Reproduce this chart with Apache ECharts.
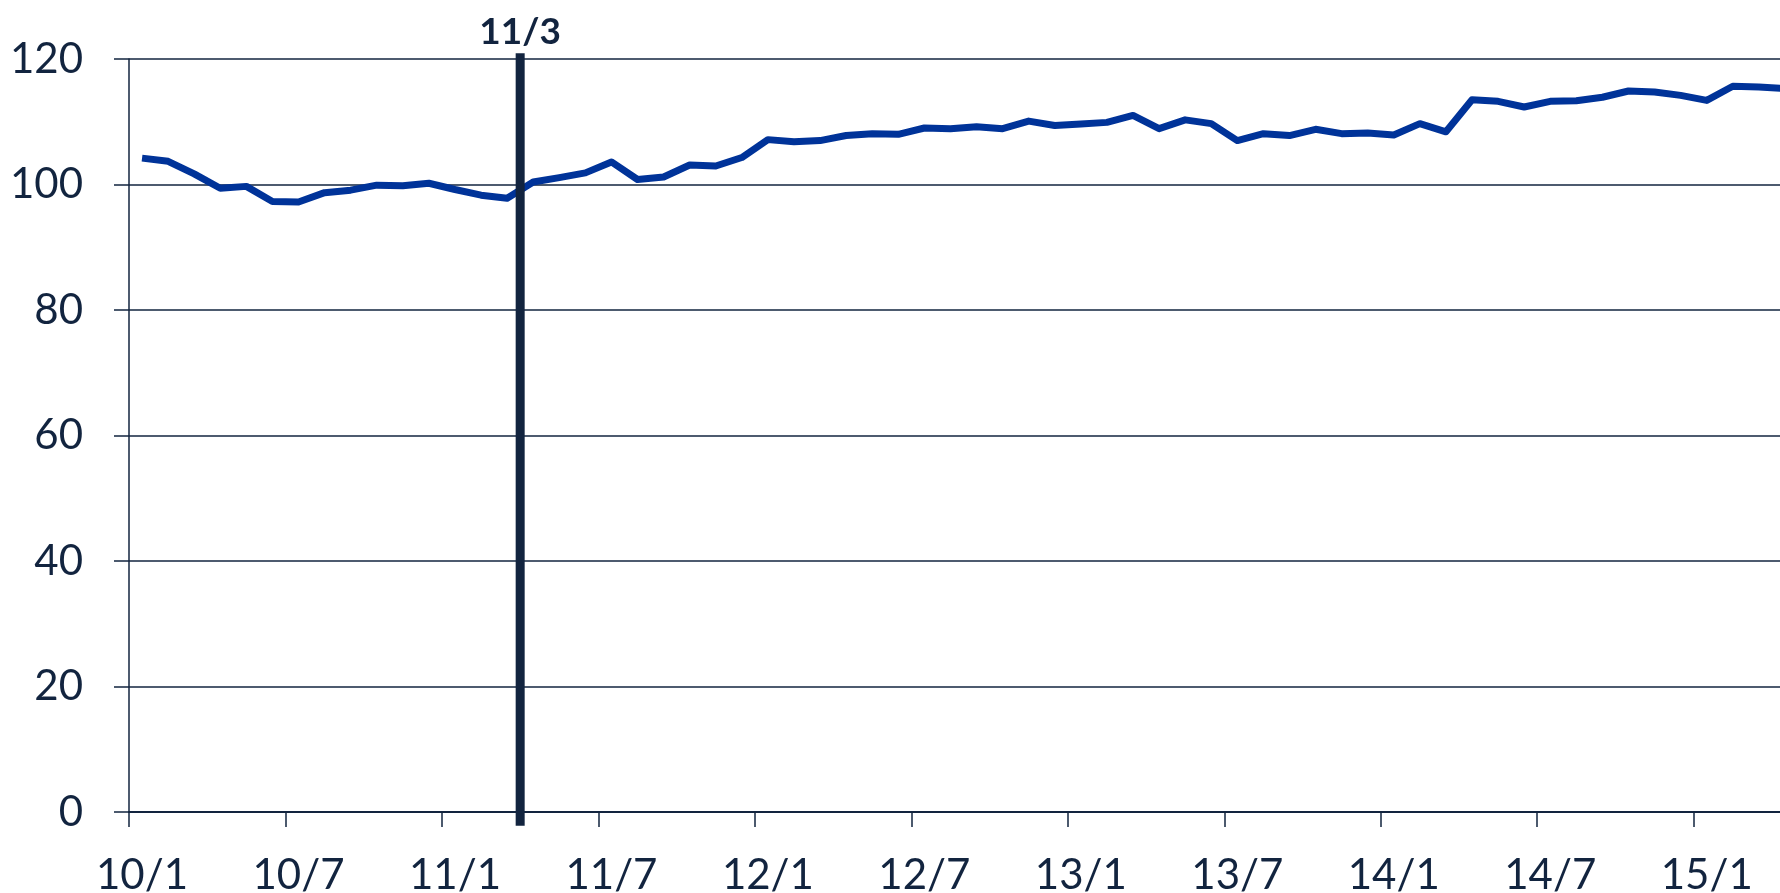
<!DOCTYPE html>
<html>
<head>
<meta charset="utf-8">
<script src="https://cdn.jsdelivr.net/npm/echarts@6/dist/echarts.min.js"></script>
<style>
  html, body { margin: 0; padding: 0; background: #fff; overflow: hidden; }
  #chart { width: 1780px; height: 893px; }
</style>
</head>
<body>
<div id="chart"></div>
<script>
// monthly index, yy/m
const months = [
  '10/1', '10/2', '10/3', '10/4', '10/5', '10/6', '10/7', '10/8', '10/9', '10/10', '10/11', '10/12',
  '11/1', '11/2', '11/3', '11/4', '11/5', '11/6', '11/7', '11/8', '11/9', '11/10', '11/11', '11/12',
  '12/1', '12/2', '12/3', '12/4', '12/5', '12/6', '12/7', '12/8', '12/9', '12/10', '12/11', '12/12',
  '13/1', '13/2', '13/3', '13/4', '13/5', '13/6', '13/7', '13/8', '13/9', '13/10', '13/11', '13/12',
  '14/1', '14/2', '14/3', '14/4', '14/5', '14/6', '14/7', '14/8', '14/9', '14/10', '14/11', '14/12',
  '15/1', '15/2', '15/3', '15/4',
]

const values = [
  104.2, 103.7, 101.7, 99.4, 99.7, 97.3, 97.2, 98.7, 99.1, 99.9, 99.8, 100.2,
  99.2, 98.3, 97.8, 100.4, 101.1, 101.85, 103.6, 100.8, 101.2, 103.1, 102.95, 104.3,
  107.15, 106.8, 107.0, 107.8, 108.1, 108.0, 109.0, 108.9, 109.2, 108.9, 110.1, 109.4,
  109.65, 109.9, 111.0, 108.9, 110.3, 109.7, 107.0, 108.1, 107.8, 108.8, 108.1, 108.2,
  107.9, 109.7, 108.4, 113.5, 113.25, 112.35, 113.25, 113.35, 113.9, 114.9, 114.75, 114.2,
  113.4, 115.65, 115.55, 115.3,
]

const yTicks = { min: 0, max: 120, step: 20 }

// vertical marker drawn on the boundary right after this month
const markerMonth = '11/3'
const markerSpan = [-2.2, 120.9]

const ink = '#12243f'
const lineBlue = '#003399'
const font = 'Lato, "Noto Sans", sans-serif'

const markerX = months.indexOf(markerMonth) + 1

const chart = echarts.init(document.getElementById('chart'), null, { renderer: 'canvas' })

chart.setOption({
  animation: false,
  backgroundColor: '#fff',
  textStyle: { fontFamily: font, color: ink },
  // the plot runs a little past the right edge of the picture
  grid: { left: 129, top: 59, width: 1669, height: 753, outerBoundsMode: 'none', containLabel: false },
  xAxis: [
    {
      type: 'category',
      data: months,
      boundaryGap: true,
      axisLine: { lineStyle: { color: ink, width: 2 } },
      axisTick: { show: true, interval: 5, length: 15, lineStyle: { color: ink, width: 1.5 } },
      axisLabel: { interval: 5, margin: 42, fontSize: 42, color: ink, fontFamily: font },
      splitLine: { show: false },
    },
    {
      // hidden helper axis: 0..N spans the same band as the categories
      type: 'value',
      show: false,
      min: 0,
      max: months.length,
    },
  ],
  yAxis: {
    type: 'value',
    min: yTicks.min,
    max: yTicks.max,
    interval: yTicks.step,
    axisLine: { show: true, lineStyle: { color: ink, width: 1.5 } },
    axisTick: { show: true, length: 15, lineStyle: { color: ink, width: 1.5 } },
    axisLabel: { margin: 46, fontSize: 42, color: ink, fontFamily: font },
    splitLine: { lineStyle: { color: ink, width: 1.5 } },
  },
  series: [
    {
      type: 'line',
      data: values,
      symbol: 'none',
      lineStyle: { color: lineBlue, width: 7, join: 'round' },
      emphasis: { disabled: true },
      z: 3,
    },
    {
      type: 'line',
      xAxisIndex: 1,
      clip: false,
      silent: true,
      symbol: 'circle',
      symbolSize: 0,
      showSymbol: true,
      showAllSymbol: true,
      lineStyle: { color: ink, width: 9, cap: 'butt' },
      itemStyle: { color: ink },
      emphasis: { disabled: true },
      z: 4,
      data: [
        [markerX, markerSpan[0]],
        {
          value: [markerX, markerSpan[1]],
          label: {
            show: true,
            position: 'top',
            distance: 3,
            formatter: markerMonth,
            fontFamily: font,
            fontSize: 37,
            fontWeight: 'bold',
            color: ink,
          },
        },
      ],
    },
  ],
})
</script>
</body>
</html>
